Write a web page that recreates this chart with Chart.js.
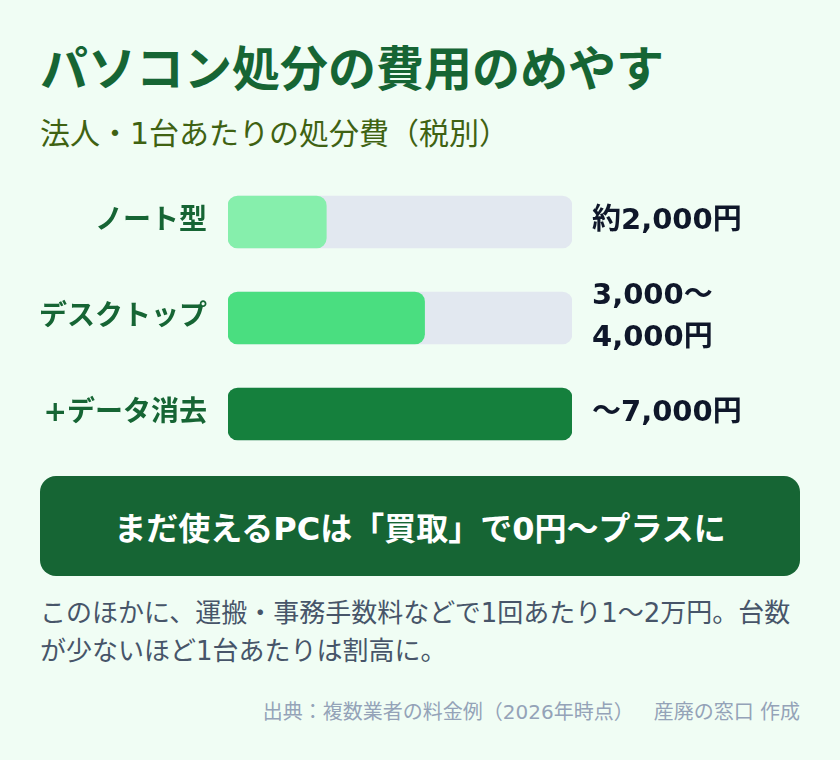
<!DOCTYPE html>
<html lang="ja">
<head>
<meta charset="utf-8">
<script src="https://cdn.jsdelivr.net/npm/chart.js@4.4.1/dist/chart.umd.min.js"></script>
<style>
  html, body { margin: 0; padding: 0; }
  body {
    width: 840px; height: 760px; position: relative; overflow: hidden;
    background: #f0fdf4;
    font-family: "DejaVu Sans", "Noto Sans CJK JP", sans-serif;
  }
  .abs { position: absolute; }
  #title { left: 40px; top: 45px; font-size: 48px; font-weight: 700; color: #166534; line-height: 1; margin: 0; }
  #subtitle { left: 40px; top: 119px; font-size: 30px; color: #3f6212; line-height: 1; }
  #chartBox { left: 40px; top: 174px; width: 760px; height: 288px; }
  #banner {
    left: 40px; top: 476px; width: 760px; height: 100px; border-radius: 16px;
    background: #166534; color: #fff; font-size: 32px; font-weight: 700;
    display: flex; align-items: center; justify-content: center;
  }
  #note { left: 40px; top: 594px; width: 760px; font-size: 26px; line-height: 38px; color: #475569; }
  #source { right: 40px; top: 696px; font-size: 20px; color: #94a3b8; white-space: pre; }
  #source span { margin-left: 20px; }
</style>
</head>
<body>
<h1 id="title" class="abs">パソコン処分の費用のめやす</h1>
<div id="subtitle" class="abs">法人・1台あたりの処分費（税別）</div>
<div id="chartBox" class="abs"><canvas id="costChart" width="760" height="288"></canvas></div>
<div id="banner" class="abs">まだ使えるPCは「買取」で0円〜プラスに</div>
<div id="note" class="abs">このほかに、運搬・事務手数料などで1回あたり1〜2万円。台数が少ないほど1台あたりは割高に。</div>
<div id="source" class="abs">出典：複数業者の料金例（2026年時点）<span>産廃の窓口 作成</span></div>

<script>
const categories = ["ノート型", "デスクトップ", "+データ消去"];
const costs = [2000, 4000, 7000];
const costLabels = ["約2,000円", ["3,000〜", "4,000円"], "〜7,000円"];
const trackMax = 7000;
const barColors = ["#86efac", "#4ade80", "#15803d"];

const FONT = "'DejaVu Sans', 'Noto Sans CJK JP', sans-serif";

// value text to the right of each track
const valueLabelPlugin = {
  id: "valueLabels",
  afterDatasetsDraw(chart) {
    const ctx = chart.ctx;
    const meta = chart.getDatasetMeta(1);
    ctx.save();
    ctx.font = "bold 29px " + FONT;
    ctx.fillStyle = "#0f172a";
    ctx.textAlign = "left";
    ctx.textBaseline = "middle";
    meta.data.forEach((bar, i) => {
      const lines = Array.isArray(costLabels[i]) ? costLabels[i] : [costLabels[i]];
      const lh = 42;
      const startY = bar.y - (lines.length - 1) * lh / 2 - 1;
      lines.forEach((line, j) => {
        ctx.fillText(line, chart.chartArea.right + 20, startY + j * lh);
      });
    });
    ctx.restore();
  }
};

const costChart = new Chart(document.getElementById("costChart").getContext("2d"), {
  type: "bar",
  data: {
    labels: categories,
    datasets: [
      {
        data: costs,
        backgroundColor: barColors,
        borderRadius: 10,
        borderSkipped: false,
        barThickness: 52,
        grouped: false,
      },
      {
        data: categories.map(() => trackMax),
        backgroundColor: "#e2e8f0",
        borderRadius: 10,
        borderSkipped: false,
        barThickness: 52,
        grouped: false,
      }
    ]
  },
  options: {
    indexAxis: "y",
    responsive: false,
    animation: false,
    layout: { padding: { left: 0, right: 228, top: 0, bottom: 0 } },
    plugins: {
      legend: { display: false },
      tooltip: { enabled: false },
    },
    scales: {
      x: { display: false, min: 0, max: trackMax },
      y: {
        grid: { display: false, drawTicks: false },
        border: { display: false },
        afterFit(scale) {
          scale.width = 188;
          scale.paddingTop = 0;
          scale.paddingBottom = 0;
        },
        ticks: {
          padding: 21,
          color: "#166534",
          font: { family: FONT, size: 28, weight: "bold" },
        },
      },
    },
  },
  plugins: [valueLabelPlugin],
});
</script>
</body>
</html>
